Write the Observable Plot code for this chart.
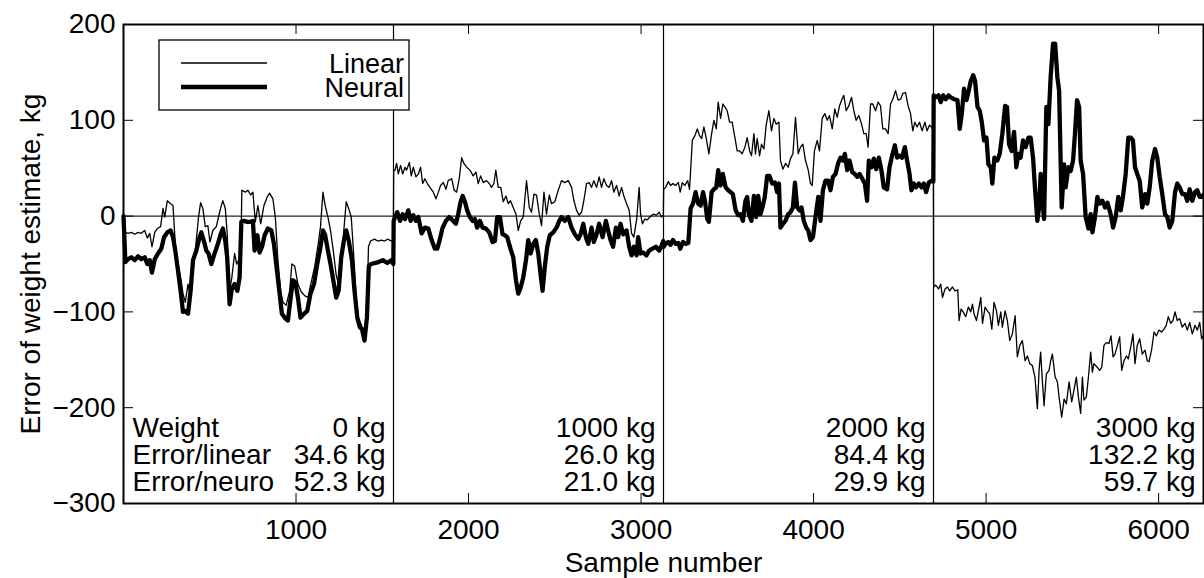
<!DOCTYPE html>
<html><head><meta charset="utf-8">
<script src="https://cdn.jsdelivr.net/npm/d3@7"></script>
<script src="https://cdn.jsdelivr.net/npm/@observablehq/plot@0.6"></script>
<style>body{margin:0;background:#fff;} #chart{width:1204px;height:578px;}</style>
</head><body><div id="chart"></div>
<script>
// ---- data: [sample number, error in kg] ----
const linear1 = [[0,0],[11,-17],[26,-18],[46,-17],[65,-19],[84,-17],[103,-18],[123,-15],[138,-23],[152,-18],[165,-32],[181,-17],[196,-13],[215,-11],[229,8],[239,-1],[254,16],[273,13],[287,11],[300,-29],[316,-50],[331,-64],[345,-81],[358,-90],[374,-71],[389,-85],[403,-43],[416,-36],[435,-1],[447,14],[460,8],[474,-11],[489,-10],[501,-27],[518,-15],[538,-11],[557,4],[567,11],[576,16],[590,8],[601,-18],[615,-78],[628,-64],[644,-39],[656,-50],[667,-46],[679,-53],[686,27],[706,25],[721,27],[737,22],[750,25],[764,-6],[779,11],[795,-8],[814,11],[833,20],[847,24],[866,18],[880,-1],[895,-46],[911,-78],[924,-90],[943,-93],[963,-78],[976,-50],[992,-52],[1011,-71],[1030,-79],[1050,-83],[1069,-85],[1088,-69],[1108,-53],[1127,-31],[1142,-11],[1156,25],[1169,11],[1185,-1],[1200,-15],[1216,-36],[1233,-62],[1247,-71],[1262,-46],[1277,-15],[1291,15],[1305,8],[1320,-1],[1335,-43],[1349,-85],[1362,-107],[1378,-113],[1393,-121],[1407,-125],[1420,-32],[1432,-26],[1455,-24],[1474,-26],[1494,-25],[1513,-26],[1532,-24],[1552,-26],[1564,-25]];
const neural1 = [[0,0],[11,-48],[26,-45],[46,-43],[65,-46],[84,-42],[103,-45],[123,-43],[138,-50],[152,-46],[165,-59],[181,-45],[200,-39],[219,-34],[235,-22],[254,-17],[273,-15],[287,-22],[300,-36],[316,-57],[331,-78],[345,-100],[358,-99],[374,-102],[389,-78],[403,-46],[422,-36],[441,-22],[451,-17],[466,-26],[480,-36],[493,-39],[509,-50],[528,-39],[547,-29],[563,-19],[576,-13],[590,-26],[601,-43],[615,-92],[628,-76],[644,-71],[660,-78],[673,-64],[683,-6],[698,-5],[718,-6],[737,-6],[750,-5],[760,-36],[776,-20],[789,-38],[803,-32],[818,-20],[837,-13],[857,-15],[872,-29],[885,-50],[905,-81],[918,-102],[938,-107],[953,-109],[969,-85],[982,-67],[996,-69],[1011,-85],[1026,-106],[1046,-102],[1065,-99],[1084,-81],[1104,-71],[1123,-50],[1142,-32],[1156,-15],[1169,-20],[1185,-36],[1200,-50],[1216,-67],[1233,-85],[1247,-78],[1262,-43],[1277,-26],[1291,-15],[1306,-26],[1324,-46],[1339,-78],[1355,-106],[1370,-116],[1382,-118],[1397,-130],[1411,-106],[1422,-52],[1436,-50],[1455,-49],[1478,-48],[1503,-46],[1529,-49],[1552,-46],[1564,-50]];
const linear2 = [[1566,48],[1574,48],[1583,55],[1593,44],[1606,53],[1618,44],[1632,51],[1641,48],[1657,56],[1668,42],[1680,51],[1695,41],[1709,44],[1722,51],[1734,34],[1747,39],[1761,34],[1776,30],[1796,25],[1811,18],[1825,25],[1838,32],[1854,35],[1869,28],[1882,37],[1902,39],[1917,27],[1931,25],[1946,39],[1960,61],[1973,55],[1989,51],[2008,48],[2027,42],[2043,46],[2056,34],[2070,42],[2085,35],[2104,37],[2120,34],[2133,30],[2147,34],[2158,48],[2172,30],[2187,30],[2201,15],[2217,21],[2230,13],[2243,16],[2259,9],[2275,2],[2288,-15],[2302,-5],[2317,-1],[2336,37],[2352,9],[2365,4],[2379,23],[2394,22],[2410,2],[2423,-10],[2437,25],[2452,2],[2468,22],[2481,13],[2500,15],[2520,27],[2539,37],[2558,35],[2578,37],[2597,30],[2611,16],[2626,6],[2641,1],[2655,4],[2668,16],[2684,34],[2699,35],[2713,30],[2726,37],[2742,30],[2757,41],[2771,30],[2784,39],[2800,32],[2815,30],[2829,37],[2842,25],[2858,32],[2873,21],[2887,30],[2900,21],[2916,13],[2931,6],[2945,-18],[2958,-22],[2974,-4],[2989,30],[2997,2],[3008,-8],[3022,-3],[3035,-4],[3051,-1],[3070,2],[3089,1],[3105,4],[3118,-1],[3129,1]];
const neural2 = [[1566,-5],[1574,-1],[1587,4],[1603,-5],[1618,2],[1632,-3],[1651,6],[1664,-5],[1680,1],[1695,-5],[1709,-1],[1728,-18],[1747,-12],[1767,-13],[1786,-25],[1805,-34],[1819,-34],[1834,-24],[1850,-12],[1869,-5],[1888,-1],[1911,-5],[1927,-8],[1940,2],[1954,15],[1966,21],[1979,15],[1992,6],[2008,-1],[2023,-5],[2037,-3],[2050,-12],[2066,-5],[2081,-12],[2101,-13],[2120,-17],[2139,-27],[2153,-26],[2166,-1],[2182,-1],[2197,-19],[2211,-20],[2224,-22],[2243,-34],[2259,-43],[2275,-67],[2288,-81],[2303,-74],[2317,-64],[2333,-46],[2346,-25],[2360,-39],[2375,-29],[2390,-25],[2404,-39],[2417,-60],[2429,-78],[2442,-53],[2456,-32],[2471,-20],[2491,-17],[2510,-12],[2526,-5],[2539,-1],[2558,-5],[2578,-1],[2597,-12],[2616,-19],[2636,-24],[2649,-19],[2665,-8],[2680,-22],[2694,-29],[2713,-12],[2726,-27],[2742,-19],[2757,-8],[2777,-22],[2796,-5],[2809,-15],[2823,-25],[2838,-32],[2854,-12],[2867,-22],[2881,-8],[2896,-19],[2916,-15],[2931,-32],[2945,-41],[2958,-32],[2974,-41],[2983,-22],[2997,-39],[3012,-38],[3031,-41],[3047,-36],[3066,-34],[3086,-32],[3105,-36],[3118,-31],[3129,-26]];
const linear3 = [[3131,28],[3142,30],[3158,36],[3171,32],[3185,34],[3200,32],[3216,35],[3227,25],[3239,35],[3254,32],[3270,37],[3281,28],[3297,79],[3312,84],[3326,91],[3339,84],[3351,81],[3364,93],[3378,81],[3393,65],[3409,86],[3422,100],[3436,91],[3447,119],[3461,102],[3474,117],[3486,114],[3499,110],[3513,98],[3528,98],[3544,82],[3557,68],[3571,68],[3586,65],[3602,72],[3615,82],[3629,68],[3640,63],[3654,86],[3663,65],[3673,81],[3687,63],[3698,75],[3712,70],[3725,95],[3741,110],[3756,89],[3770,102],[3783,96],[3799,98],[3808,58],[3822,49],[3837,55],[3853,51],[3866,60],[3880,65],[3895,103],[3911,65],[3924,72],[3938,75],[3953,58],[3969,48],[3982,34],[3992,32],[4005,68],[4021,79],[4034,68],[4050,102],[4065,107],[4079,100],[4092,105],[4108,91],[4123,112],[4137,103],[4150,115],[4162,121],[4175,126],[4189,110],[4204,115],[4220,124],[4233,110],[4247,100],[4262,105],[4278,96],[4291,86],[4305,86],[4316,72],[4330,117],[4343,117],[4359,110],[4374,119],[4388,115],[4401,91],[4417,91],[4432,86],[4446,117],[4459,122],[4475,131],[4490,121],[4504,122],[4517,128],[4533,129],[4548,115],[4562,107],[4575,89],[4587,98],[4600,93],[4614,98],[4629,89],[4645,98],[4658,89],[4672,95],[4683,93],[4694,90]];
const neural3 = [[3131,-32],[3142,-29],[3158,-27],[3171,-30],[3185,-25],[3200,-29],[3216,-28],[3227,-34],[3243,-27],[3258,-29],[3274,-28],[3287,8],[3301,13],[3316,25],[3331,13],[3345,11],[3359,25],[3370,16],[3384,-3],[3393,-6],[3409,25],[3422,28],[3436,30],[3447,48],[3461,32],[3474,44],[3490,30],[3505,27],[3519,25],[3532,23],[3548,6],[3563,1],[3576,2],[3590,-5],[3605,16],[3615,20],[3625,2],[3640,-5],[3654,21],[3667,-1],[3679,21],[3692,2],[3706,11],[3717,20],[3731,42],[3744,42],[3760,34],[3776,35],[3789,25],[3799,34],[3808,-12],[3822,-8],[3837,-5],[3853,2],[3866,4],[3880,9],[3892,35],[3905,9],[3919,6],[3930,9],[3943,-5],[3957,-12],[3969,-15],[3982,-25],[3996,-22],[4011,-1],[4027,20],[4040,-5],[4054,27],[4069,37],[4085,37],[4098,27],[4112,41],[4127,44],[4142,55],[4156,61],[4170,58],[4181,65],[4195,48],[4208,58],[4224,46],[4239,44],[4253,41],[4266,44],[4282,39],[4297,34],[4310,16],[4320,58],[4336,51],[4349,60],[4363,49],[4378,61],[4393,48],[4407,30],[4426,28],[4440,51],[4455,63],[4471,74],[4484,61],[4498,63],[4513,61],[4529,72],[4542,58],[4556,44],[4567,27],[4581,34],[4594,30],[4610,34],[4625,30],[4639,34],[4652,25],[4668,35],[4683,37],[4694,36]];
const linear4 = [[4696,-74],[4708,-72],[4724,-76],[4737,-71],[4747,-85],[4762,-76],[4776,-74],[4789,-78],[4805,-74],[4820,-78],[4836,-77],[4843,-109],[4855,-97],[4867,-100],[4882,-105],[4897,-95],[4911,-100],[4921,-92],[4930,-102],[4944,-109],[4955,-99],[4969,-85],[4979,-112],[4994,-95],[5007,-99],[5021,-102],[5033,-118],[5046,-90],[5060,-99],[5071,-114],[5085,-100],[5094,-116],[5110,-99],[5123,-109],[5137,-130],[5152,-123],[5168,-104],[5181,-147],[5195,-135],[5210,-130],[5226,-151],[5239,-146],[5253,-154],[5268,-156],[5283,-168],[5297,-201],[5307,-161],[5316,-142],[5326,-172],[5336,-198],[5349,-165],[5365,-161],[5374,-151],[5384,-144],[5400,-168],[5413,-173],[5423,-189],[5438,-210],[5452,-191],[5465,-196],[5481,-173],[5496,-194],[5509,-182],[5523,-168],[5535,-189],[5548,-206],[5558,-168],[5567,-192],[5581,-189],[5593,-168],[5606,-142],[5616,-163],[5625,-154],[5645,-158],[5658,-161],[5670,-158],[5683,-135],[5697,-132],[5712,-133],[5724,-125],[5736,-147],[5747,-144],[5761,-135],[5774,-126],[5786,-161],[5799,-151],[5813,-146],[5824,-149],[5838,-137],[5851,-123],[5863,-154],[5876,-135],[5890,-128],[5905,-144],[5921,-140],[5934,-151],[5944,-152],[5959,-140],[5973,-121],[5987,-125],[6002,-119],[6017,-121],[6031,-118],[6044,-114],[6056,-105],[6070,-112],[6083,-109],[6095,-100],[6108,-109],[6122,-107],[6137,-116],[6153,-112],[6166,-119],[6180,-111],[6195,-123],[6211,-114],[6224,-119],[6238,-111],[6249,-128],[6258,-125]];
const neural4 = [[4696,126],[4708,124],[4724,126],[4737,119],[4751,126],[4766,122],[4782,126],[4795,124],[4814,122],[4834,121],[4847,91],[4859,107],[4872,133],[4886,121],[4897,129],[4911,141],[4925,147],[4936,141],[4950,114],[4963,110],[4975,98],[4988,79],[5002,82],[5013,54],[5027,51],[5036,34],[5048,61],[5065,58],[5079,65],[5094,86],[5110,115],[5121,114],[5133,75],[5148,68],[5162,88],[5175,51],[5187,65],[5200,61],[5214,79],[5229,72],[5245,82],[5258,82],[5272,61],[5283,30],[5297,-5],[5307,9],[5316,44],[5326,16],[5336,-3],[5349,114],[5361,96],[5374,145],[5388,180],[5400,180],[5413,145],[5423,131],[5438,9],[5452,54],[5461,30],[5477,51],[5490,47],[5504,58],[5515,86],[5527,121],[5539,114],[5548,58],[5562,44],[5577,-1],[5593,-13],[5606,2],[5616,-17],[5631,-1],[5645,20],[5658,13],[5674,16],[5689,9],[5703,14],[5722,2],[5736,-12],[5751,-1],[5766,20],[5780,6],[5793,20],[5809,44],[5824,82],[5838,82],[5851,79],[5863,51],[5876,44],[5890,37],[5905,9],[5921,23],[5934,13],[5948,30],[5963,58],[5979,70],[5992,61],[6006,41],[6021,23],[6037,2],[6050,-1],[6064,-12],[6079,-5],[6095,25],[6108,34],[6122,30],[6137,23],[6153,23],[6166,16],[6180,28],[6195,16],[6211,25],[6224,27],[6238,20],[6249,20],[6258,22]];

const segmentEnds = [1565, 3130, 4695, 6260];
const weights = ["0 kg", "1000 kg", "2000 kg", "3000 kg"];
const errorLinear = [34.6, 26.0, 84.4, 132.2];
const errorNeuro = [52.3, 21.0, 29.9, 59.7];
const rowLabels = ["Weight", "Error/linear", "Error/neuro"];
const xTicks = [1000, 2000, 3000, 4000, 5000, 6000];
const yTicks = [-300, -200, -100, 0, 100, 200];
const seriesNames = ["Linear", "Neural"];

// ---- build tables ----
const toRows = (pairs) => pairs.map(([x, y]) => ({x, y}));
const linear = toRows([...linear1, ...linear2, ...linear3, ...linear4]);
const neural = toRows([...neural1, ...neural2, ...neural3, ...neural4]);
const stats = segmentEnds.map((end, i) => ({
  end,
  weight: weights[i],
  lin: errorLinear[i].toFixed(1) + " kg",
  neu: errorNeuro[i].toFixed(1) + " kg"
}));
const dividers = segmentEnds.slice(0, -1);

const FONT = '"Liberation Sans", Arial, Helvetica, sans-serif';
const W = 1204, H = 578, mL = 123, mR = 1, mT = 24, mB = 75;
const innerH = H - mT - mB;
const innerW = W - mL - mR;
const TICK = 10, FS = 28;
const rowDy = [-67, -40, -13];
const rowKeys = ["weight", "lin", "neu"];

const chart = Plot.plot({
  width: W, height: H,
  marginLeft: mL, marginRight: mR, marginTop: mT, marginBottom: mB,
  x: {domain: [0, 6260]},
  y: {domain: [-300, 200]},
  style: {fontFamily: FONT, fontSize: FS + "px", color: "black", background: "white", overflow: "visible"},
  marks: [
    Plot.ruleY([0], {stroke: "#222", strokeWidth: 1.3}),
    Plot.ruleX(dividers, {x: d => d, stroke: "black", strokeWidth: 1.2}),
    Plot.line(linear, {x: "x", y: "y", stroke: "black", strokeWidth: 1.3}),
    Plot.line(neural, {x: "x", y: "y", stroke: "black", strokeWidth: 4.3, strokeLinejoin: "round"}),
    // inward ticks on all four sides
    Plot.ruleX(xTicks, {x: d => d, insetTop: innerH - TICK, stroke: "black"}),
    Plot.ruleX(xTicks, {x: d => d, insetBottom: innerH - TICK, stroke: "black"}),
    Plot.ruleY(yTicks, {y: d => d, insetRight: innerW - TICK, stroke: "black"}),
    Plot.ruleY(yTicks, {y: d => d, insetLeft: innerW - TICK, stroke: "black"}),
    Plot.axisX(xTicks, {anchor: "bottom", tickSize: 0, tickPadding: 16, fontSize: FS,
      tickFormat: d3.format("d"), label: "Sample number", labelAnchor: "center", labelOffset: 68, labelArrow: "none"}),
    Plot.axisY(yTicks, {anchor: "left", tickSize: 0, tickPadding: 8, fontSize: FS,
      tickFormat: d3.format("d"), label: "Error of weight estimate, kg", labelAnchor: "center", labelOffset: 103, labelArrow: "none"}),
    ...rowLabels.map((lab, i) => Plot.text([lab], {text: d => d, frameAnchor: "bottom-left",
      textAnchor: "start", lineAnchor: "bottom", dx: 9, dy: rowDy[i], fontSize: FS, fill: "black"})),
    ...rowKeys.map((k, i) => Plot.text(stats, {x: "end", text: k, frameAnchor: "bottom",
      textAnchor: "end", lineAnchor: "bottom", dx: -8, dy: rowDy[i], fontSize: FS, fill: "black"})),
    Plot.frame({stroke: "black", strokeWidth: 2})
  ]
});
document.getElementById("chart").appendChild(chart);

// legend box (inside the axes, top-left)
const svg = d3.select(chart.tagName.toLowerCase() === "svg" ? chart : chart.querySelector("svg"));
const lg = svg.append("g").attr("font-family", FONT).attr("font-size", 27);
lg.append("rect").attr("x", 159).attr("y", 40).attr("width", 250).attr("height", 70)
  .attr("fill", "white").attr("stroke", "black").attr("stroke-width", 1.3);
const legendWidths = [1.3, 4.3];
seriesNames.forEach((name, i) => {
  const cy = 63 + i * 24;
  lg.append("line").attr("x1", 181).attr("x2", 267).attr("y1", cy).attr("y2", cy)
    .attr("stroke", "black").attr("stroke-width", legendWidths[i]);
  lg.append("text").attr("x", 404).attr("y", cy + 10).attr("text-anchor", "end").text(name);
});
</script>
</body></html>
